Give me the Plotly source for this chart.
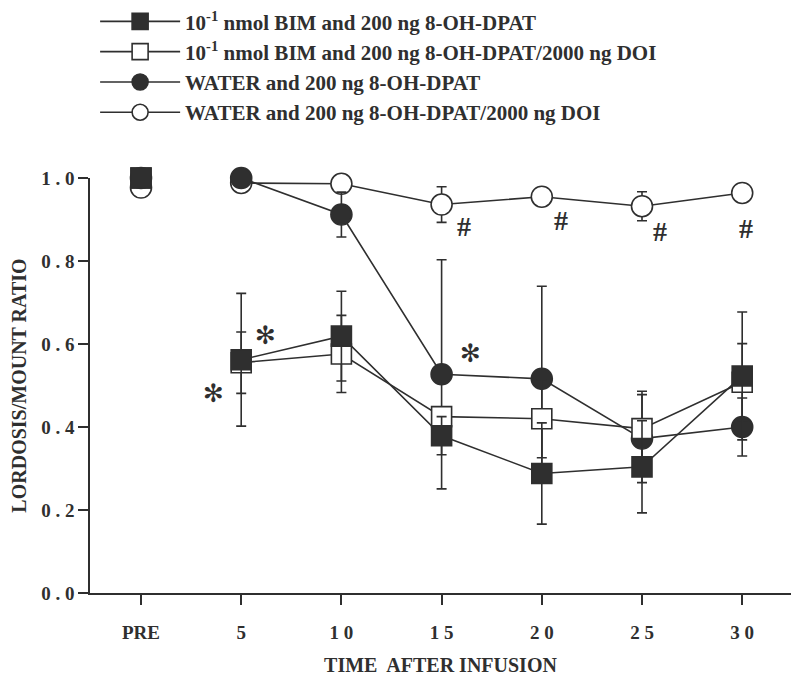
import plotly.graph_objects as go

# ---- data ----
times = ["PRE", "5", "10", "15", "20", "25", "30"]
tick_text = ["PRE", "5", "1 0", "1 5", "2 0", "2 5", "3 0"]
y_ticks = [0.0, 0.2, 0.4, 0.6, 0.8, 1.0]
y_tick_text = ["0 . 0", "0 . 2", "0 . 4", "0 . 6", "0 . 8", "1 . 0"]

bim_dpat = [1.00, 0.562, 0.619, 0.379, 0.288, 0.304, 0.523]
bim_dpat_err = [0.0, 0.160, 0.108, 0.046, 0.122, 0.111, 0.154]

bim_dpat_doi = [1.00, 0.555, 0.576, 0.425, 0.420, 0.396, 0.508]
bim_dpat_doi_err = [0.0, 0.074, 0.093, 0.020, 0.094, 0.090, 0.093]

water_dpat = [1.00, 1.00, 0.912, 0.527, 0.516, 0.372, 0.400]
water_dpat_err = [0.0, 0.0, 0.054, 0.276, 0.223, 0.106, 0.070]

water_dpat_doi = [0.977, 0.988, 0.986, 0.936, 0.955, 0.932, 0.964]
water_dpat_doi_err = [0.0, 0.0, 0.020, 0.043, 0.0, 0.035, 0.0]

names = [
    "10<sup>-1</sup> nmol BIM and 200 ng 8-OH-DPAT",
    "10<sup>-1</sup> nmol BIM and 200 ng 8-OH-DPAT/2000 ng DOI",
    "WATER and 200 ng 8-OH-DPAT",
    "WATER and 200 ng 8-OH-DPAT/2000 ng DOI",
]

star_x = [0.72, 1.24, 3.29]
star_y = [0.480, 0.620, 0.577]
hash_x = [3.22, 4.19, 5.18, 6.04]
hash_y = [0.884, 0.897, 0.870, 0.878]

INK = "#2f2f2f"
FONT = "Liberation Serif"

fig = go.Figure()

series = [
    (water_dpat_doi, water_dpat_doi_err, "circle", "white", 4, 3),
    (water_dpat, water_dpat_err, "circle", INK, 3, 2),
    (bim_dpat_doi, bim_dpat_doi_err, "square", "white", 2, 1),
    (bim_dpat, bim_dpat_err, "square", INK, 1, 0),
]

for vals, errs, sym, fill, rank, ni in series:
    marker = dict(symbol=sym, size=20 if sym == "square" else 21, color=fill,
                  line=dict(color=INK, width=1.6))
    err = dict(type="data", array=errs[1:], visible=True, color=INK,
               thickness=1.6, width=5)
    fig.add_trace(go.Scatter(
        x=times[1:], y=vals[1:], mode="lines+markers", name=names[ni],
        line=dict(color=INK, width=1.6), marker=marker, error_y=err,
        cliponaxis=False, legendrank=rank, legendgroup=str(rank),
    ))
    fig.add_trace(go.Scatter(
        x=times[:1], y=vals[:1], mode="markers", marker=marker,
        showlegend=False, cliponaxis=False, legendgroup=str(rank),
    ))

annotations = []
for x, y in zip(star_x, star_y):
    annotations.append(dict(x=x, y=y, xref="x", yref="y", text="✻", showarrow=False,
                            font=dict(family="DejaVu Sans", size=25, color=INK)))
for x, y in zip(hash_x, hash_y):
    annotations.append(dict(x=x, y=y, xref="x", yref="y", text="#", showarrow=False,
                            font=dict(family=FONT, size=28, color=INK, weight="bold")))

# figure is 792x669 because the page adds an 8 px offset on top/left
fig.update_layout(
    width=792, height=669,
    margin=dict(l=82, r=9, t=170, b=84, autoexpand=False),
    paper_bgcolor="white", plot_bgcolor="white",
    font=dict(family=FONT, color=INK, size=19, weight="bold"),
    showlegend=True,
    legend=dict(x=0.0073, y=1.426, xanchor="left", yanchor="top",
                font=dict(family=FONT, size=21, color=INK, weight="bold"),
                itemwidth=80, traceorder="grouped", tracegroupgap=0,
                bgcolor="rgba(0,0,0,0)"),
    annotations=annotations,
    shapes=[dict(type="line", xref="paper", yref="paper", x0=-8 / 701, x1=0,
                 y0=0, y1=0, line=dict(color=INK, width=1.6))],
    xaxis=dict(type="category", categoryorder="array", categoryarray=times,
               range=[-0.509, 6.487], showline=True, linecolor=INK, linewidth=1.6,
               ticks="outside", ticklen=10, tickwidth=1.6, tickcolor=INK,
               tickvals=times, ticktext=tick_text, showgrid=False, zeroline=False,
               ticklabelstandoff=11, automargin=False, tickangle=0,
               tickfont=dict(family=FONT, size=19, color=INK, weight="bold"),
               title=dict(text="TIME\u00a0 AFTER INFUSION", standoff=16,
                          font=dict(family=FONT, size=20, color=INK, weight="bold"))),
    yaxis=dict(range=[0, 1.0], automargin=False,
               showline=True, linecolor=INK, linewidth=1.6,
               ticks="outside", ticklen=10, tickwidth=1.6, tickcolor=INK,
               tickvals=y_ticks, ticktext=y_tick_text, showgrid=False, zeroline=False,
               tickfont=dict(family=FONT, size=19, color=INK, weight="bold"),
               title=dict(text="LORDOSIS/MOUNT RATIO", standoff=10,
                          font=dict(family=FONT, size=20, color=INK, weight="bold"))),
)

fig.write_html("out.html")
